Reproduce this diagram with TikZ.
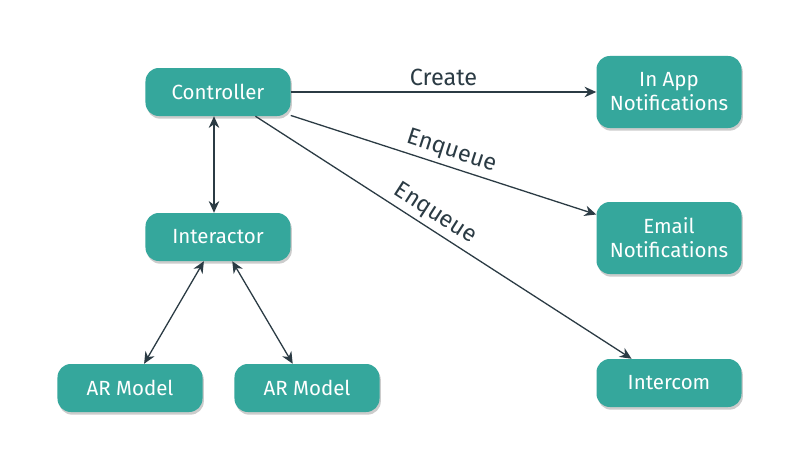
\documentclass[tikz,border=0pt]{standalone}
\usepackage{fontspec}
\setmainfont{Fira Sans}
\usetikzlibrary{arrows.meta,shadows}
\definecolor{boxteal}{HTML}{35A79C}
\definecolor{linkgray}{HTML}{2B3B44}
\tikzset{
  box/.style={draw=none,fill=boxteal,text=white,rounded corners=0.4cm,
    minimum width=4.35cm,minimum height=1.44cm,align=center,
    font=\fontsize{17.5}{20.5}\selectfont,
    drop shadow={shadow xshift=0.04cm,shadow yshift=-0.08cm,opacity=0.4}},
  tallbox/.style={box,minimum height=2.16cm},
  link/.style={draw=linkgray,line width=1.1pt,-{Stealth[length=10pt,width=9pt]}},
  twoway/.style={link,{Stealth[length=10pt,width=9pt]}-{Stealth[length=10pt,width=9pt]}},
  lbl/.style={text=linkgray,font=\fontsize{20}{23}\selectfont}
}
\begin{document}
\begin{tikzpicture}[x=0.03cm,y=-0.03cm]
\useasboundingbox[fill=white] (0,0) rectangle (800,473);
\node[box] (ctrl) at (218,92) {Controller};
\node[box] (inter) at (218,237) {Interactor};
\node[box] (arA) at (130,388) {AR Model};
\node[box] (arB) at (307,388) {AR Model};
\node[tallbox] (inapp) at (669,92) {In App\\Notifications};
\node[tallbox] (email) at (669,238) {Email\\Notifications};
\node[box] (icom) at (669,383) {Intercom};
% controller outputs
\draw[link] (ctrl) -- (inapp) node[lbl,midway,above=1pt] (create) {Create};
\draw[link] (ctrl) -- (email) node[lbl,pos=0.51,sloped,above=0pt] (enqA) {Enqueue};
\draw[link] (ctrl) -- (icom) node[lbl,pos=0.455,sloped,above=0pt] (enqB) {Enqueue};
% model side
\draw[twoway] ([xshift=-0.12cm]ctrl.south) -- ([xshift=-0.12cm]inter.north);
\draw[twoway] (inter) -- (arA);
\draw[twoway] (inter) -- (arB);
\end{tikzpicture}
\end{document}
